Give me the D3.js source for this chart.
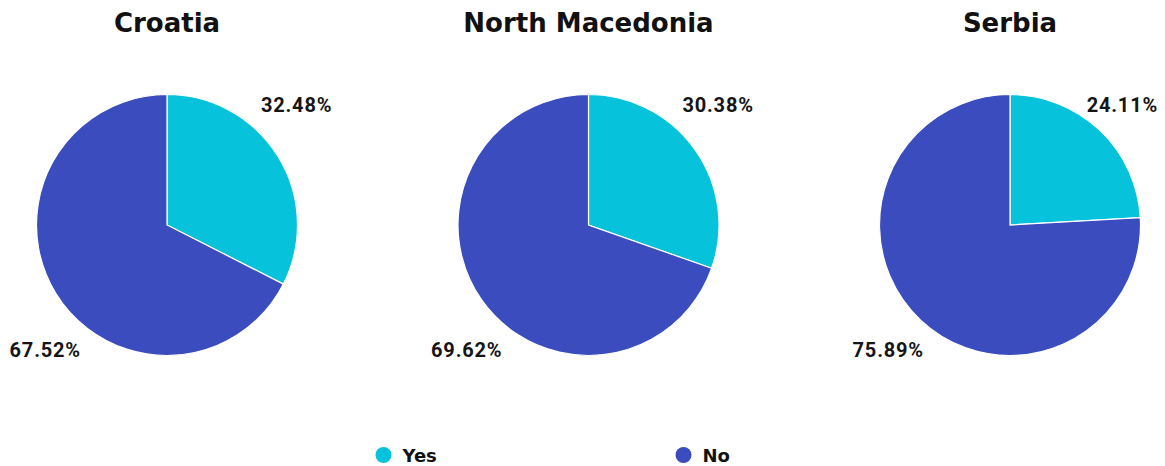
<!DOCTYPE html>
<html>
<head>
<meta charset="utf-8">
<script src="https://cdn.jsdelivr.net/npm/d3@7"></script>
<style>
  html, body { margin: 0; padding: 0; background: #ffffff; }
  svg { display: block; }
  .title { font-family: "DejaVu Sans", sans-serif; font-weight: 700; font-size: 26px; fill: #111; }
  .pct { font-family: Roboto, sans-serif; font-weight: 700; font-size: 20px; letter-spacing: 0.8px; fill: #151515; }
  .legend-text { font-family: "DejaVu Sans", sans-serif; font-weight: 700; font-size: 18px; fill: #111; }
</style>
</head>
<body>
<svg id="chart" width="1165" height="466"></svg>
<script>
// Share of respondents answering Yes / No, per country
const countries = ["Croatia", "North Macedonia", "Serbia"];
const answers = ["Yes", "No"];
const yesShare = [32.48, 30.38, 24.11];
const noShare = [67.52, 69.62, 75.89];
const colors = ["#06c2da", "#3b4cbf"];

const width = 1165, height = 466;
const svg = d3.select("#chart");

const radius = 130.5;
const cy = 225;
const rightLimit = width - 7;
const cx = d3.scalePoint().domain(countries).range([167, 1010]);
const color = d3.scaleOrdinal().domain(answers).range(colors);

const pie = d3.pie().sort(null).value(d => d.value);
const arc = d3.arc().innerRadius(0).outerRadius(radius);

countries.forEach((name, i) => {
  const rows = [
    { answer: "Yes", value: yesShare[i] },
    { answer: "No", value: noShare[i] }
  ];
  const x0 = cx(name);
  const g = svg.append("g").attr("transform", `translate(${x0},${cy})`);

  g.selectAll("path")
    .data(pie(rows))
    .join("path")
    .attr("d", arc)
    .attr("fill", d => color(d.data.answer))
    .attr("stroke", "#ffffff")
    .attr("stroke-width", 1.2);

  // title above each pie
  g.append("text")
    .attr("class", "title")
    .attr("text-anchor", "middle")
    .attr("y", -193)
    .text(name);

  // percentage labels: Yes at top right, No at bottom left
  const yes = g.append("text")
    .attr("class", "pct")
    .attr("text-anchor", "start")
    .attr("x", radius * 0.72)
    .attr("y", -113)
    .text(d3.format(".2f")(yesShare[i]) + "%");
  // keep the label inside the drawing area
  const w = yes.node().getComputedTextLength();
  const overflow = x0 + radius * 0.72 + w - rightLimit;
  if (overflow > 0) yes.attr("x", radius * 0.72 - overflow);

  g.append("text")
    .attr("class", "pct")
    .attr("text-anchor", "end")
    .attr("x", -radius * 0.66)
    .attr("y", 132)
    .text(d3.format(".2f")(noShare[i]) + "%");
});

// legend
const legendX = d3.scalePoint().domain(answers).range([383.5, 683.5]);
const legend = svg.append("g").attr("transform", "translate(0,455)");
const item = legend.selectAll("g")
  .data(answers)
  .join("g")
  .attr("transform", d => `translate(${legendX(d)},0)`);
item.append("circle")
  .attr("r", 8)
  .attr("fill", d => color(d));
item.append("text")
  .attr("class", "legend-text")
  .attr("x", 19)
  .attr("y", 7)
  .text(d => d);
</script>
</body>
</html>
